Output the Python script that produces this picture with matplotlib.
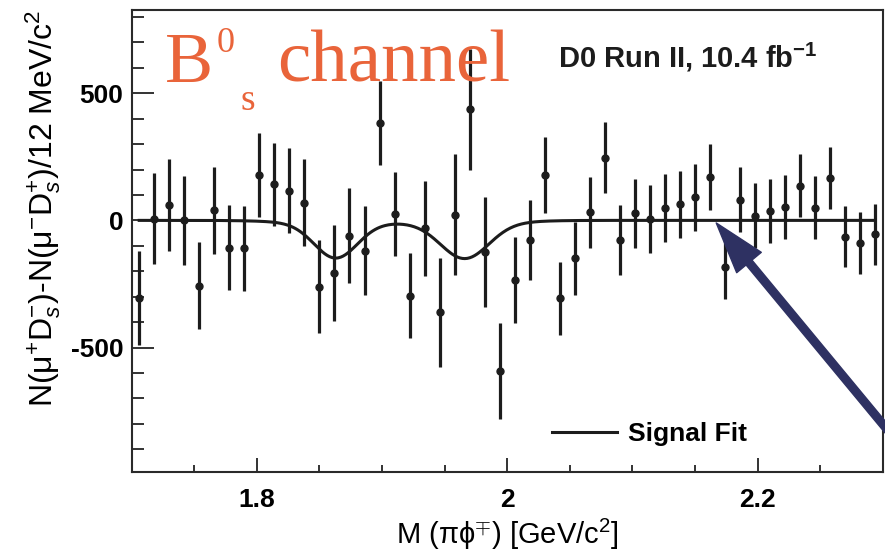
import numpy as np
import matplotlib.pyplot as plt
from matplotlib.ticker import MultipleLocator

plt.rcParams['font.family'] = ['Liberation Sans', 'DejaVu Sans']
plt.rcParams['mathtext.fontset'] = 'custom'
plt.rcParams['mathtext.rm'] = 'Liberation Sans'
plt.rcParams['mathtext.it'] = 'Liberation Sans:italic'
plt.rcParams['mathtext.bf'] = 'Liberation Sans:bold'
plt.rcParams['axes.unicode_minus'] = False

# 12 MeV bin centres in M(pi phi) [GeV]
mass = [1.706, 1.718, 1.730, 1.742, 1.754, 1.766, 1.778, 1.790, 1.802, 1.814,
        1.826, 1.838, 1.850, 1.862, 1.874, 1.886, 1.898, 1.910, 1.922, 1.934,
        1.946, 1.958, 1.970, 1.982, 1.994, 2.006, 2.018, 2.030, 2.042, 2.054,
        2.066, 2.078, 2.090, 2.102, 2.114, 2.126, 2.138, 2.150, 2.162, 2.174,
        2.186, 2.198, 2.210, 2.222, 2.234, 2.246, 2.258, 2.270, 2.282, 2.294]

# N(mu+ Ds-) - N(mu- Ds+) per bin and its uncertainty
asym = [-305, 7, 61, 0, -256, 39, -107, -109, 179, 142,
        116, 70, -260, -208, -60, -119, 383, 25, -296, -31,
        -362, 22, 437, -123, -592, -234, -77, 179, -306, -149,
        31, 247, -77, 28, 5, 48, 64, 91, 170, -182,
        81, 18, 37, 54, 136, 50, 166, -64, -90, -54]
asym_err = [183, 178, 180, 175, 172, 170, 168, 167, 165, 164,
            167, 172, 181, 189, 187, 175, 164, 164, 168, 187,
            213, 237, 237, 216, 190, 170, 156, 150, 144, 144,
            140, 139, 136, 135, 134, 133, 132, 131, 129, 129,
            128, 127, 127, 126, 124, 125, 121, 121, 121, 120]

# signal fit: D+ and Ds peaks, each a core gaussian plus a wide tail
peak_mass = [1.863, 1.966]
core_amp = [-133, -135]
core_sigma = [0.017, 0.019]
tail_amp = [-15, -15]
tail_sigma = 0.035

xf = np.linspace(mass[0], mass[-1], 600)
fit = np.zeros_like(xf)
for m, a, s, t in zip(peak_mass, core_amp, core_sigma, tail_amp):
    fit += a * np.exp(-0.5 * ((xf - m) / s) ** 2)
    fit += t * np.exp(-0.5 * ((xf - m) / tail_sigma) ** 2)

ink = '#1c1c1c'
fig = plt.figure(figsize=(8.85, 5.53), dpi=100)
ax = fig.add_axes([0.1488, 0.147, 0.8486, 0.8349])

ax.plot(xf, fit, color=ink, lw=2.2, label='Signal Fit', zorder=2)
ax.errorbar(mass, asym, yerr=asym_err, fmt='o', color=ink, ms=5,
            elinewidth=2.3, capsize=0, zorder=3)

ax.set_xlim(1.7, 2.3)
ax.set_ylim(-988, 827)
ax.xaxis.set_major_locator(MultipleLocator(0.2))
ax.xaxis.set_minor_locator(MultipleLocator(0.05))
ax.yaxis.set_major_locator(MultipleLocator(500))
ax.yaxis.set_minor_locator(MultipleLocator(100))
ax.set_xticks([1.8, 2.0, 2.2], labels=['1.8', '2', '2.2'])

ax.tick_params(which='both', direction='in', top=False, right=False,
               color='#333333', width=1.4)
ax.tick_params(axis='x', which='major', length=10, pad=12, labelsize=19)
ax.tick_params(axis='x', which='minor', length=5)
ax.tick_params(axis='y', which='major', length=16, pad=6, labelsize=19)
ax.tick_params(axis='y', which='minor', length=8.5)
for lab in ax.get_xticklabels() + ax.get_yticklabels():
    lab.set_fontweight('bold')
for sp in ax.spines.values():
    sp.set_linewidth(1.5)
    sp.set_color('#2a2a2a')

ax.set_xlabel(r'M (πϕ$^{\mp}$) [GeV/c$^{2}$]', fontsize=21)
ax.xaxis.set_label_coords(0.5, -0.098)
ax.set_ylabel(r'N(μ$^{+}$D$_{s}^{-}$)-N(μ$^{-}$D$_{s}^{+}$)/12 MeV/c$^{2}$',
              fontsize=23, loc='top')
ax.yaxis.set_label_coords(-0.092, 1.0)

ax.legend(loc='center left', bbox_to_anchor=(0.5597, 0.0817), frameon=False,
          borderpad=0, borderaxespad=0, handlelength=2.46, handletextpad=0.42,
          prop={'weight': 'bold', 'size': 19})

fig.text(0.6305, 0.8788, r'D0 Run II, 10.4 fb$^{\mathbf{-1}}$', fontsize=21,
         fontweight='bold', color=ink, va='baseline')

# channel tag
tag = '#E9643A'
fig.text(0.1864, 0.8523, 'B', fontsize=52, color=tag, family='Liberation Serif', va='baseline')
fig.text(0.2445, 0.906, '0', fontsize=26, color=tag, family='Liberation Serif', va='baseline')
fig.text(0.2712, 0.8011, 's', fontsize=27, color=tag, family='Liberation Serif', va='baseline')
fig.text(0.313, 0.8523, 'channel', fontsize=54, color=tag, family='Liberation Serif', va='baseline')

ax.annotate('', xy=(2.167, -10), xycoords='data',
            xytext=(1.017, 0.1953), textcoords='figure fraction',
            arrowprops=dict(arrowstyle='simple,head_length=3.7,head_width=2.3,tail_width=0.55',
                            color='#2E3162', shrinkA=0, shrinkB=0, mutation_scale=10),
            annotation_clip=False, zorder=5)

fig.savefig('out.png', dpi=100)
